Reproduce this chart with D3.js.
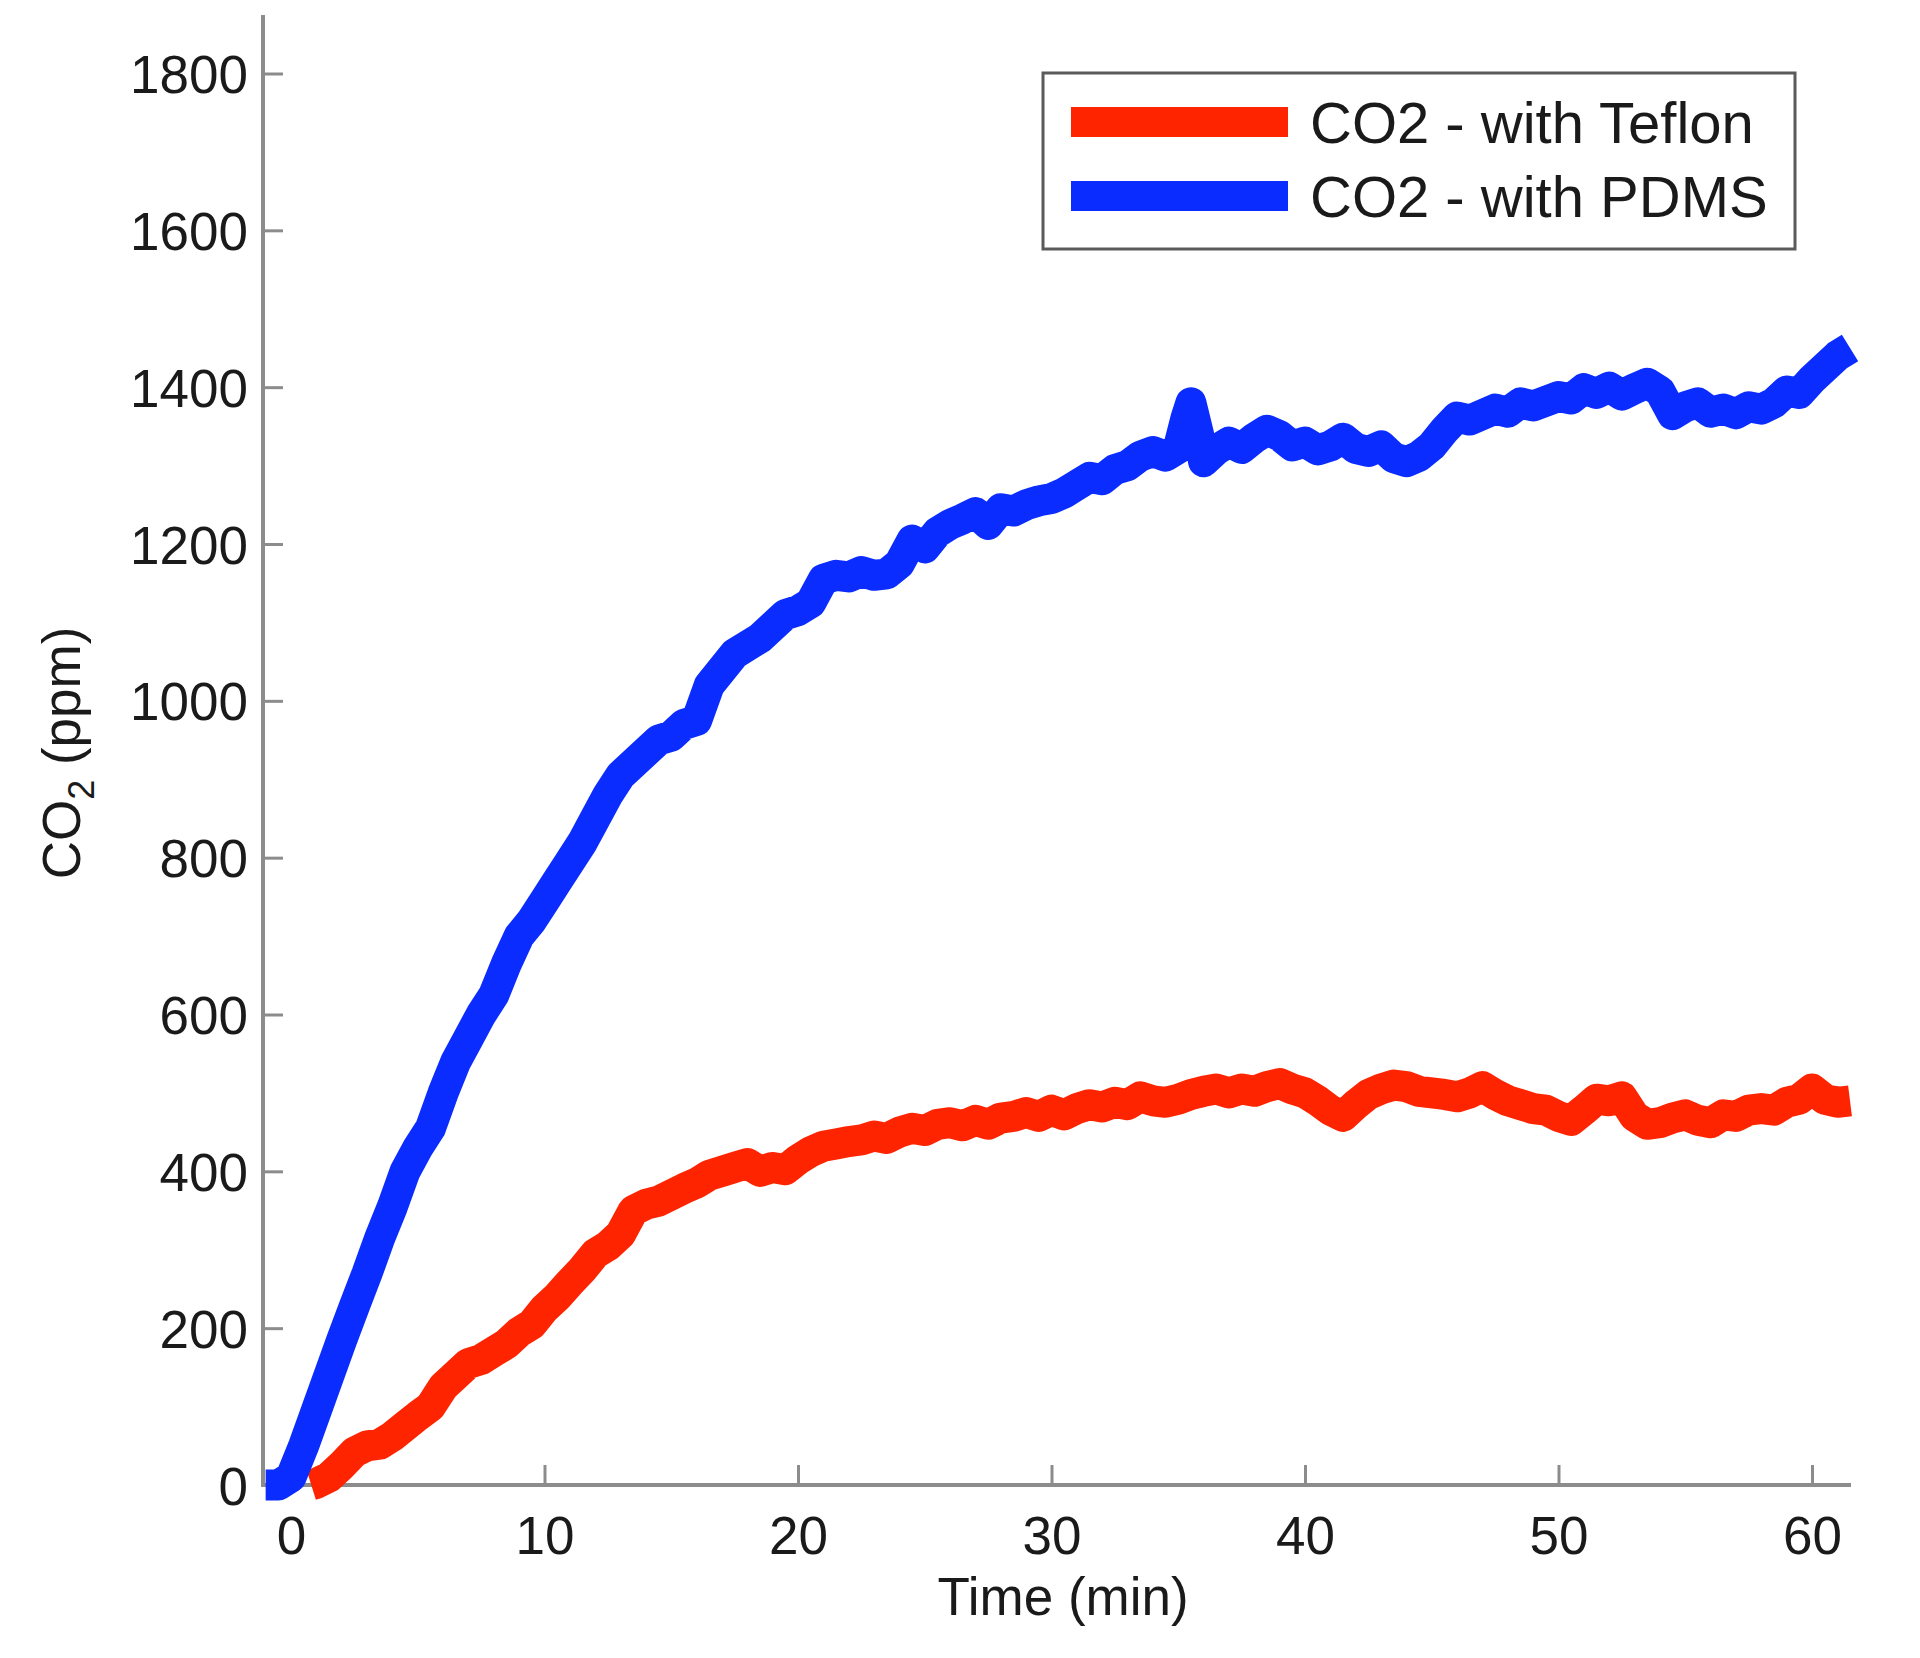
<!DOCTYPE html>
<html>
<head>
<meta charset="utf-8">
<script src="https://cdn.jsdelivr.net/npm/d3@7"></script>
<style>
  html, body { margin: 0; padding: 0; background: #fff; }
  svg { display: block; }
  text { font-family: "Liberation Sans", Arial, sans-serif; fill: #1a1a1a; }
</style>
</head>
<body>
<svg id="chart" width="1920" height="1658"></svg>
<script>
// ---- data ----
const xTicks = [0, 10, 20, 30, 40, 50, 60];
const yTicks = [0, 200, 400, 600, 800, 1000, 1200, 1400, 1600, 1800];
const seriesNames = ["CO2 - with Teflon", "CO2 - with PDMS"];
const seriesColors = ["#ff2400", "#0a2cff"];

const pdmsTime = [-1,-0.5,0,0.5,1,1.5,2,2.5,3,3.5,4,4.5,5,5.5,6,6.5,7,7.5,8,8.5,9,9.5,10,10.5,11,11.5,12,12.5,13,13.5,14,14.5,15,15.5,16,16.5,17,17.5,18,18.5,19,19.5,20,20.5,21,21.5,22,22.5,23,23.5,24,24.5,25,25.5,26,26.5,27,27.5,28,28.5,29,29.5,30,30.5,31,31.5,32,32.5,33,33.5,34,34.5,35,35.3,35.5,35.8,36,36.5,37,37.5,38,38.5,39,39.5,40,40.5,41,41.5,42,42.5,43,43.5,44,44.5,45,45.5,46,46.5,47,47.5,48,48.5,49,49.5,50,50.5,51,51.5,52,52.5,53,53.5,54,54.5,55,55.5,56,56.5,57,57.5,58,58.5,59,59.5,60,60.5,61,61.5];
const pdmsValues = [0,0,10,50,95,140,185,228,270,315,355,400,430,455,500,540,570,600,625,665,700,720,745,770,795,820,850,880,905,920,935,950,955,970,975,1020,1040,1060,1070,1080,1095,1110,1115,1125,1155,1160,1158,1165,1160,1162,1175,1205,1195,1215,1225,1232,1240,1225,1245,1242,1250,1255,1258,1265,1275,1285,1282,1295,1300,1312,1318,1312,1322,1360,1380,1340,1305,1320,1330,1322,1335,1345,1338,1325,1330,1320,1325,1335,1322,1318,1325,1310,1305,1312,1325,1345,1362,1358,1365,1372,1368,1380,1376,1382,1388,1385,1398,1392,1400,1390,1398,1405,1395,1365,1375,1380,1368,1372,1366,1375,1372,1380,1395,1392,1410,1425,1440,1450];

const teflonTime = [0.8,1,1.5,2,2.5,3,3.5,4,4.5,5,5.5,6,6.5,7,7.5,8,8.5,9,9.5,10,10.5,11,11.5,12,12.5,13,13.5,14,14.5,15,15.5,16,16.5,17,17.5,18,18.5,19,19.5,20,20.5,21,21.5,22,22.5,23,23.5,24,24.5,25,25.5,26,26.5,27,27.5,28,28.5,29,29.5,30,30.5,31,31.5,32,32.5,33,33.5,34,34.5,35,35.5,36,36.5,37,37.5,38,38.5,39,39.5,40,40.5,41,41.5,42,42.5,43,43.5,44,44.5,45,45.5,46,46.5,47,47.5,48,48.5,49,49.5,50,50.5,51,51.5,52,52.5,53,53.5,54,54.5,55,55.5,56,56.5,57,57.5,58,58.5,59,59.5,60,60.5,61,61.5];
const teflonValues = [0,2,10,25,42,50,52,62,75,88,100,125,140,155,160,170,180,195,205,225,240,258,275,295,305,320,350,358,362,370,378,385,395,400,405,410,400,405,402,415,425,432,435,438,440,445,442,450,455,452,460,462,458,465,460,468,470,475,470,478,472,480,485,482,488,485,495,490,488,492,498,502,505,500,505,502,508,512,505,500,490,478,470,485,498,505,510,508,502,500,498,495,500,508,498,490,485,480,478,470,465,478,492,490,495,470,460,462,468,472,465,462,472,470,478,480,478,488,492,505,492,488,490];

const xLabel = "Time (min)";

// ---- chart ----
const svg = d3.select("#chart");
const x = d3.scaleLinear().domain([0, 60]).range([291, 1812]);
const y = d3.scaleLinear().domain([0, 1800]).range([1485, 73.5]);
const axisLeftX = 263, axisRightX = 1851, axisTopY = 15, axisBottomY = 1485;
const axisColor = "#8c8c8c";
const FS = 53;

// axes lines
svg.append("line").attr("x1", axisLeftX).attr("x2", axisLeftX)
  .attr("y1", axisTopY).attr("y2", axisBottomY + 2)
  .attr("stroke", axisColor).attr("stroke-width", 4);
svg.append("line").attr("x1", axisLeftX).attr("x2", axisRightX)
  .attr("y1", axisBottomY).attr("y2", axisBottomY)
  .attr("stroke", axisColor).attr("stroke-width", 4);

// y ticks
const yAxis = svg.append("g").attr("transform", `translate(${axisLeftX},0)`)
  .call(d3.axisLeft(y).tickValues(yTicks).tickSize(-20).tickPadding(15).tickFormat(d3.format("d")));
yAxis.select(".domain").remove();
yAxis.selectAll(".tick line").attr("stroke", axisColor).attr("stroke-width", 3);
yAxis.selectAll(".tick text").attr("font-size", FS).attr("fill", "#1a1a1a")
  .attr("font-family", '"Liberation Sans", Arial, sans-serif').attr("dy", "0.36em").attr("x", -15);

// x ticks
const xAxis = svg.append("g").attr("transform", `translate(0,${axisBottomY})`)
  .call(d3.axisBottom(x).tickValues(xTicks).tickSize(-20).tickPadding(0).tickFormat(d3.format("d")));
xAxis.select(".domain").remove();
xAxis.selectAll(".tick line").attr("stroke", axisColor).attr("stroke-width", 3);
xAxis.selectAll(".tick text").attr("font-size", FS).attr("fill", "#1a1a1a")
  .attr("font-family", '"Liberation Sans", Arial, sans-serif').attr("y", 69).attr("dy", 0);

// series
const line = d3.line().x(d => x(d[0])).y(d => y(d[1]));
const series = [
  { t: teflonTime, v: teflonValues, c: seriesColors[0] },
  { t: pdmsTime, v: pdmsValues, c: seriesColors[1] }
];
series.forEach(s => {
  const pts = s.t.map((t, i) => [t, s.v[i]]);
  svg.append("path").datum(pts).attr("d", line)
    .attr("fill", "none").attr("stroke", s.c).attr("stroke-width", 31)
    .attr("stroke-linejoin", "round").attr("stroke-linecap", "butt");
});

// x label
svg.append("text").attr("x", 1063).attr("y", 1615).attr("text-anchor", "middle")
  .attr("font-size", FS).text(xLabel);

// y label with subscript
const yl = svg.append("text").attr("transform", "translate(80,753) rotate(-90)")
  .attr("text-anchor", "middle").attr("font-size", FS);
yl.append("tspan").text("CO");
yl.append("tspan").attr("font-size", 36).attr("dy", 14).text("2");
yl.append("tspan").attr("dy", -14).text(" (ppm)");

// legend
const lg = svg.append("g");
lg.append("rect").attr("x", 1043).attr("y", 73).attr("width", 752).attr("height", 176)
  .attr("fill", "#fff").attr("stroke", "#5a5a5a").attr("stroke-width", 3);
seriesNames.forEach((name, i) => {
  const ly = 122 + i * 74;
  lg.append("line").attr("x1", 1071).attr("x2", 1288).attr("y1", ly).attr("y2", ly)
    .attr("stroke", seriesColors[i]).attr("stroke-width", 30);
  lg.append("text").attr("x", 1310).attr("y", ly + 21).attr("font-size", 58).text(name);
});
</script>
</body>
</html>
